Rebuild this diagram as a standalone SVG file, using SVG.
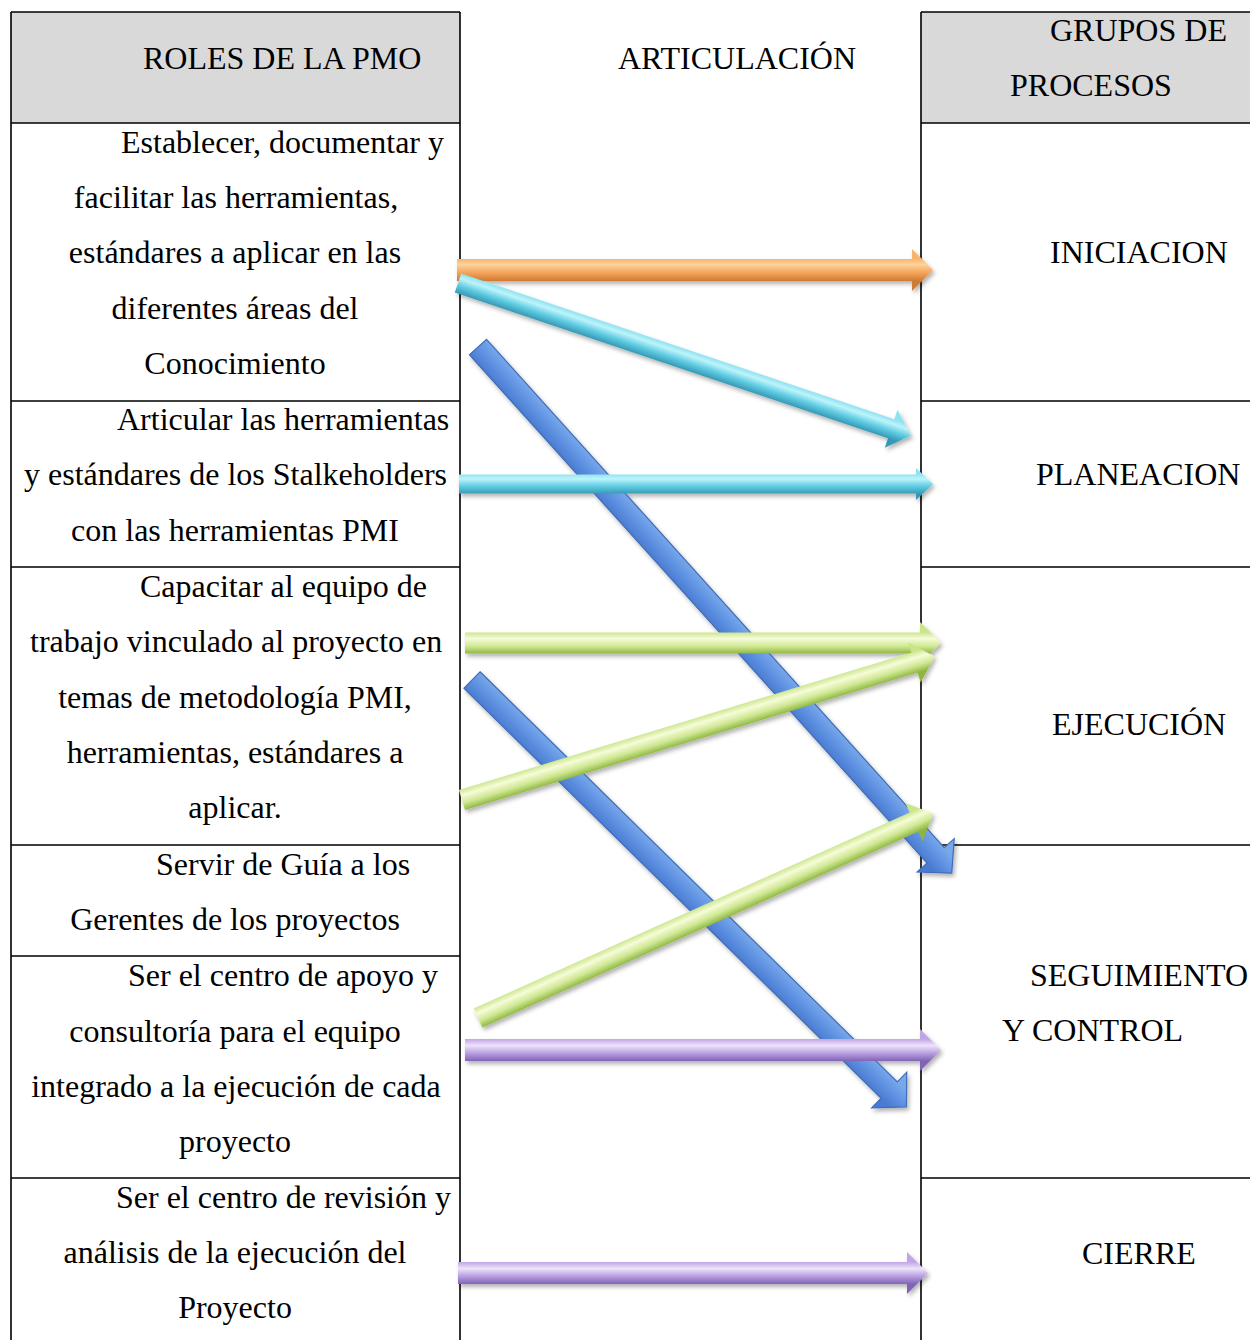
<svg xmlns="http://www.w3.org/2000/svg" width="1250" height="1340" viewBox="0 0 1250 1340">
<style>
.t{font-family:"Liberation Serif","Times New Roman",serif;font-size:32px;fill:#000}
.m{text-anchor:middle}
.hdr{fill:#d9d9d9;stroke:none}
.ln{stroke:#000;stroke-width:1.6;fill:none}
</style>
<defs>
<filter id="sh" x="-10%" y="-20%" width="120%" height="160%">
<feDropShadow dx="2" dy="3" stdDeviation="2" flood-color="#000" flood-opacity="0.3"/>
</filter>
<linearGradient id="gO" gradientUnits="userSpaceOnUse" x1="0" y1="-11" x2="0" y2="11">
<stop offset="0" stop-color="#f7b56c"/><stop offset="0.25" stop-color="#fdd39c"/><stop offset="0.6" stop-color="#f6a75c"/><stop offset="1" stop-color="#cf7a34"/>
</linearGradient>
<linearGradient id="gC" gradientUnits="userSpaceOnUse" x1="0" y1="-10" x2="0" y2="10">
<stop offset="0" stop-color="#8fe2f0"/><stop offset="0.25" stop-color="#bdf4fb"/><stop offset="0.6" stop-color="#62cde3"/><stop offset="1" stop-color="#3599b5"/>
</linearGradient>
<linearGradient id="gG" gradientUnits="userSpaceOnUse" x1="0" y1="-11" x2="0" y2="11">
<stop offset="0" stop-color="#c9e58a"/><stop offset="0.3" stop-color="#f6fcd8"/><stop offset="0.65" stop-color="#cfe893"/><stop offset="1" stop-color="#8db53f"/>
</linearGradient>
<linearGradient id="gP" gradientUnits="userSpaceOnUse" x1="0" y1="-11" x2="0" y2="11">
<stop offset="0" stop-color="#c0a6e6"/><stop offset="0.3" stop-color="#eee3fb"/><stop offset="0.65" stop-color="#b89ee0"/><stop offset="1" stop-color="#8163b6"/>
</linearGradient>
<linearGradient id="gB" gradientUnits="userSpaceOnUse" x1="0" y1="-12" x2="0" y2="12">
<stop offset="0" stop-color="#79a8ea"/><stop offset="0.5" stop-color="#5f92e2"/><stop offset="1" stop-color="#4a7bd0"/>
</linearGradient>
</defs>
<rect width="1250" height="1340" fill="#fff"/>

<g id="header-roles">
<rect class="hdr" x="11" y="12" width="449" height="111"/>
<text class="t" x="143" y="69">ROLES DE LA PMO</text>
</g>
<g id="header-articulacion">
<text class="t" x="618" y="69">ARTICULACIÓN</text>
</g>
<g id="header-grupos">
<rect class="hdr" x="921" y="12" width="329" height="111"/>
<text class="t" x="1050" y="41">GRUPOS DE</text>
<text class="t" x="1010" y="96">PROCESOS</text>
</g>

<g id="role-1">
<text class="t" x="121" y="153">Establecer, documentar y</text>
<text class="t m" x="236" y="208">facilitar las herramientas,</text>
<text class="t m" x="235" y="263">estándares a aplicar en las</text>
<text class="t m" x="235" y="319">diferentes áreas del</text>
<text class="t m" x="235" y="374">Conocimiento</text>
</g>
<g id="role-2">
<text class="t" x="117" y="430">Articular las herramientas</text>
<text class="t" x="24" y="485">y estándares de los Stalkeholders</text>
<text class="t m" x="235" y="541">con las herramientas PMI</text>
</g>
<g id="role-3">
<text class="t" x="140" y="597">Capacitar al equipo de</text>
<text class="t" x="30" y="652">trabajo vinculado al proyecto en</text>
<text class="t m" x="235" y="708">temas de metodología PMI,</text>
<text class="t m" x="235" y="763">herramientas, estándares a</text>
<text class="t m" x="235" y="818">aplicar.</text>
</g>
<g id="role-4">
<text class="t" x="156" y="875">Servir de Guía a los</text>
<text class="t m" x="235" y="930">Gerentes de los proyectos</text>
</g>
<g id="role-5">
<text class="t" x="128" y="986">Ser el centro de apoyo y</text>
<text class="t m" x="235" y="1042">consultoría para el equipo</text>
<text class="t m" x="236" y="1097">integrado a la ejecución de cada</text>
<text class="t m" x="235" y="1152">proyecto</text>
</g>
<g id="role-6">
<text class="t" x="116" y="1208">Ser el centro de revisión y</text>
<text class="t m" x="235" y="1263">análisis de la ejecución del</text>
<text class="t m" x="235" y="1318">Proyecto</text>
</g>

<g id="grupo-iniciacion"><text class="t" x="1050" y="263">INICIACION</text></g>
<g id="grupo-planeacion"><text class="t" x="1036" y="485">PLANEACION</text></g>
<g id="grupo-ejecucion"><text class="t" x="1052" y="735">EJECUCIÓN</text></g>
<g id="grupo-seguimiento"><text class="t" x="1030" y="986">SEGUIMIENTO</text><text class="t" x="1002" y="1041">Y CONTROL</text></g>
<g id="grupo-cierre"><text class="t" x="1082" y="1264">CIERRE</text></g>

<g id="grid">
<path class="ln" d="M11,12H460M921,12H1250M11,12V1340M460,12V1340M921,12V1340"/>
<path class="ln" d="M11,123H460M11,401H460M11,567H460M11,845H460M11,956H460M11,1178H460"/>
<path class="ln" d="M921,123H1250M921,401H1250M921,567H1250M921,845H1250M921,1178H1250"/>
</g>

<g id="connectors" filter="url(#sh)">
<polygon transform="translate(478,347) rotate(48)" points="0,-11.5 684,-11.5 684,-25 708,0 684,25 684,11.5 0,11.5" fill="url(#gB)" stroke="#3f6db8" stroke-width="1.2"/>
<polygon transform="translate(472,680) rotate(44.5)" points="0,-11.5 585,-11.5 585,-25 609,0 585,25 585,11.5 0,11.5" fill="url(#gB)" stroke="#3f6db8" stroke-width="1.2"/>
<polygon transform="translate(457,270)" points="0,-11 455,-11 455,-21 476,0 455,21 455,11 0,11" fill="url(#gO)"/>
<polygon transform="translate(458,283) rotate(18.6)" points="0,-10 457,-10 457,-20 478,0 457,20 457,10 0,10" fill="url(#gC)"/>
<polygon transform="translate(459,484)" points="0,-9.5 457,-9.5 457,-16 474,0 457,16 457,9.5 0,9.5" fill="url(#gC)"/>
<polygon transform="translate(465,643)" points="0,-10.5 455,-10.5 455,-21 476,0 455,21 455,10.5 0,10.5" fill="url(#gG)"/>
<polygon transform="translate(462,800) rotate(-16.9)" points="0,-10.5 473,-10.5 473,-21 494,0 473,21 473,10.5 0,10.5" fill="url(#gG)"/>
<polygon transform="translate(478,1018) rotate(-24.2)" points="0,-10.5 478,-10.5 478,-21 499,0 478,21 478,10.5 0,10.5" fill="url(#gG)"/>
<polygon transform="translate(465,1050)" points="0,-11 455,-11 455,-21 476,0 455,21 455,11 0,11" fill="url(#gP)"/>
<polygon transform="translate(458,1273)" points="0,-11 449,-11 449,-21 470,0 449,21 449,11 0,11" fill="url(#gP)"/>
</g>
</svg>
